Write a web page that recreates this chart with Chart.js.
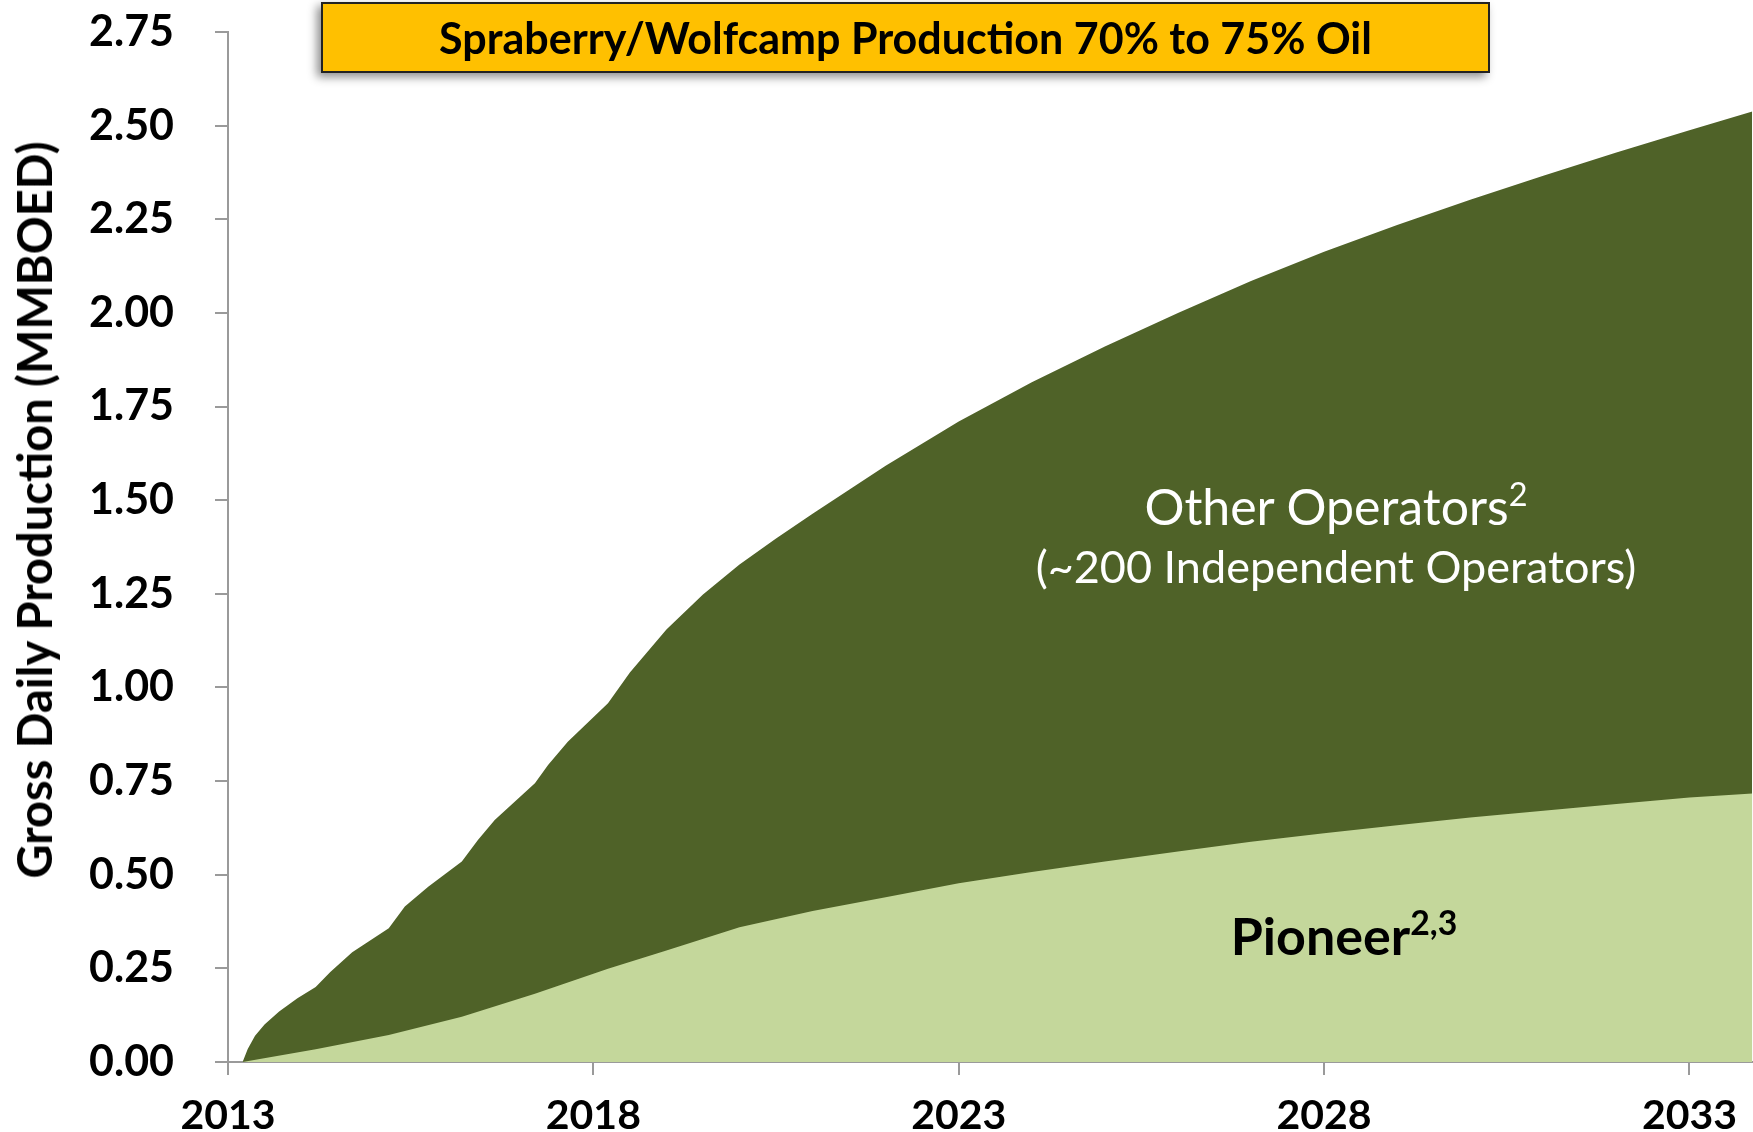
<!DOCTYPE html>
<html>
<head>
<meta charset="utf-8">
<script src="https://cdn.jsdelivr.net/npm/chart.js@4.4.1/dist/chart.umd.min.js"></script>
<style>
  html, body { margin: 0; padding: 0; background: #fff; }
  .wrap { position: relative; width: 1753px; height: 1132px; font-family: Lato, "DejaVu Sans", sans-serif; }
  canvas { position: absolute; left: 0; top: 0; }
  .banner {
    position: absolute; left: 321px; top: 2px; width: 1169px; height: 71px;
    box-sizing: border-box; background: #ffc000; border: 2px solid #222;
    box-shadow: -4px 4px 9px rgba(0, 0, 0, 0.45);
    display: flex; align-items: center; justify-content: center;
    font-weight: bold; font-size: 43px; color: #000;
  }
  .ytitle {
    position: absolute; left: 34px; top: 510px; white-space: nowrap;
    transform: translate(-50%, -50%) rotate(-90deg);
    font-weight: bold; font-size: 47px; color: #000;
  }
  .lbl { position: absolute; transform: translate(-50%, -50%); white-space: nowrap; }
  sup { font-size: 0.65em; vertical-align: 0.6em; line-height: 0; }
</style>
</head>
<body>
<div class="wrap">
  <canvas id="chart" width="1753" height="1132"></canvas>
  <div class="banner">Spraberry/Wolfcamp Production 70% to 75% Oil</div>
  <div class="ytitle">Gross Daily Production (MMBOED)</div>
  <div class="lbl" style="left:1336px; top:506px; color:#fff; font-size:50px;">Other Operators<sup>2</sup></div>
  <div class="lbl" style="left:1336px; top:566px; color:#fff; font-size:45px;">(~200 Independent Operators)</div>
  <div class="lbl" style="left:1344px; top:935px; color:#000; font-size:52px; font-weight:bold;">Pioneer<sup>2,3</sup></div>
</div>
<script>
// Data (MMBOED)
const totalYears = [
  2013.2, 2013.27, 2013.37, 2013.5, 2013.7, 2013.95, 2014.2, 2014.4, 2014.7,
  2015.2, 2015.42, 2015.74, 2016.2, 2016.42, 2016.65, 2017.2, 2017.38, 2017.65,
  2018.2, 2018.5, 2019, 2019.5, 2020, 2020.5, 2021, 2022, 2023, 2024, 2025,
  2026, 2027, 2028, 2029, 2030, 2031, 2032, 2033, 2033.86,
];
const totalProduction = [
  0, 0.035, 0.07, 0.1, 0.135, 0.17, 0.2, 0.24, 0.293,
  0.357, 0.415, 0.468, 0.535, 0.593, 0.646, 0.744, 0.793, 0.855,
  0.958, 1.04, 1.155, 1.248, 1.328, 1.398, 1.464, 1.592, 1.71, 1.815, 1.91,
  2.0, 2.085, 2.163, 2.235, 2.302, 2.366, 2.428, 2.488, 2.538,
];

const pioneerYears = [
  2013.2, 2014.2, 2015.2, 2016.2, 2017.2, 2018.2, 2019, 2020, 2021, 2022,
  2023, 2024, 2025, 2026, 2027, 2028, 2029, 2030, 2031, 2032, 2033, 2033.86,
];
const pioneerProduction = [
  0, 0.034, 0.072, 0.121, 0.182, 0.249, 0.298, 0.36, 0.403, 0.44,
  0.477, 0.507, 0.535, 0.562, 0.588, 0.611, 0.632, 0.653, 0.671, 0.689, 0.706, 0.717,
];

const xTicks = [2013, 2018, 2023, 2028, 2033];
const yTicks = [0, 0.25, 0.5, 0.75, 1, 1.25, 1.5, 1.75, 2, 2.25, 2.5, 2.75];

const family = "Lato, 'DejaVu Sans', sans-serif";
const axisGrey = "#9a9a9a";

const ctx = document.getElementById("chart");

new Chart(ctx, {
  type: "line",
  data: {
    datasets: [
      {
        label: "Pioneer",
        data: pioneerYears.map((x, i) => ({ x, y: pioneerProduction[i] })),
        fill: "origin",
        backgroundColor: "#c4d79b",
        borderWidth: 0,
        pointRadius: 0,
        tension: 0,
      },
      {
        label: "Other Operators",
        data: totalYears.map((x, i) => ({ x, y: totalProduction[i] })),
        fill: "origin",
        backgroundColor: "#4f6228",
        borderWidth: 0,
        pointRadius: 0,
        tension: 0,
      },
    ],
  },
  options: {
    responsive: false,
    animation: false,
    devicePixelRatio: 1,
    // left padding places the y labels, y axis box fills the rest up to x=228
    layout: { padding: { top: 32, right: 0, left: 89, bottom: 0 } },
    plugins: { legend: { display: false }, tooltip: { enabled: false } },
    scales: {
      x: {
        type: "linear",
        min: 2013,
        max: 2033.86,
        z: 1,
        afterBuildTicks: (s) => {
          s.ticks = xTicks.map((v) => ({ value: v }));
        },
        afterFit: (s) => {
          s.height = 70;
        },
        ticks: {
          font: { family, size: 41, weight: "bold" },
          color: "#000",
          padding: 16,
          maxRotation: 0,
          callback: (v) => String(v),
        },
        grid: { drawOnChartArea: false, tickLength: 13, color: axisGrey, lineWidth: 2 },
        border: { color: axisGrey, width: 2 },
      },
      y: {
        min: 0,
        max: 2.75,
        z: 1,
        afterBuildTicks: (s) => {
          s.ticks = yTicks.map((v) => ({ value: v }));
        },
        afterFit: (s) => {
          s.width = 228 - 89;
        },
        ticks: {
          font: { family, size: 43, weight: "bold" },
          color: "#000",
          padding: 0,
          crossAlign: "far",
          callback: (v) => v.toFixed(2),
        },
        grid: { drawOnChartArea: false, tickLength: 13, color: axisGrey, lineWidth: 2 },
        border: { color: axisGrey, width: 2 },
      },
    },
  },
});
</script>
</body>
</html>
